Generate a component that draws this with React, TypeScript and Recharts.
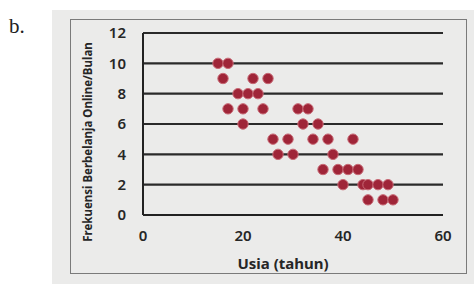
import React from "react";
import { ScatterChart, Scatter, XAxis, YAxis, CartesianGrid } from "recharts";

const usia: number[] = [15, 17, 16, 22, 25, 19, 21, 23, 17, 20, 24, 31, 33, 20, 32, 35, 26, 29, 34, 37, 42, 27, 30, 38, 36, 39, 41, 43, 40, 44, 45, 47, 49, 45, 48, 50];
const frekuensi: number[] = [10, 10, 9, 9, 9, 8, 8, 8, 7, 7, 7, 7, 7, 6, 6, 6, 5, 5, 5, 5, 5, 4, 4, 4, 3, 3, 3, 3, 2, 2, 2, 2, 2, 1, 1, 1];
const xTicks: number[] = [0, 20, 40, 60];
const yTicks: number[] = [0, 2, 4, 6, 8, 10, 12];

const data = usia.map((u, i) => ({ usia: u, frek: frekuensi[i] }));

const font = "'Noto Sans', 'DejaVu Sans', sans-serif";

const Dot = (props: any) => {
  const { cx, cy } = props;
  if (cx == null || cy == null) return null;
  return <circle cx={cx} cy={cy} r={5.2} fill="#9f2538" stroke="#c86a76" strokeWidth={1} />;
};

export default function App() {
  return (
    <div style={{ position: "absolute", left: 0, top: 0, width: 474, height: 284, background: "#ffffff", overflow: "hidden" }}>
      <div style={{ position: "absolute", left: 52, top: 10, width: 422, height: 274, background: "#ebebea" }} />
      <div style={{ position: "absolute", left: 70, top: 19, width: 397, height: 255, border: "1.5px solid #7a7a7a", boxSizing: "border-box" }} />
      <div style={{ position: "absolute", left: 9, top: 14, fontFamily: "'Liberation Serif', serif", fontSize: 21, color: "#222" }}>b.</div>
      <div style={{ position: "absolute", left: 0, top: 0 }}>
        <ScatterChart width={474} height={284} margin={{ top: 33, right: 31, bottom: 39, left: 113 }}>
          <CartesianGrid horizontal={true} vertical={false} stroke="#2a2a2a" strokeWidth={2.2} strokeOpacity={1} />
          <XAxis
            type="number"
            dataKey="usia"
            domain={[0, 60]}
            ticks={xTicks}
            height={30}
            tickLine={false}
            axisLine={{ stroke: "#222", strokeWidth: 2 }}
            tickMargin={9}
            tick={{ fontFamily: font, fontSize: 15, fontWeight: 600, fill: "#262626" }}
            label={{
              content: () => (
                <text x={283} y={269} textAnchor="middle" fontFamily={font} fontSize={15} fontWeight={700} fill="#262626">
                  Usia (tahun)
                </text>
              ),
            }}
          />
          <YAxis
            type="number"
            dataKey="frek"
            domain={[0, 12]}
            ticks={yTicks}
            width={30}
            tickLine={false}
            axisLine={{ stroke: "#222", strokeWidth: 2 }}
            tickMargin={11}
            tick={{ fontFamily: font, fontSize: 15, fontWeight: 600, fill: "#262626" }}
            label={{
              content: () => (
                <text x={92} y={142} transform="rotate(-90 92 142)" textAnchor="middle" fontFamily={font} fontSize={11.5} fontWeight={700} fill="#262626">
                  Frekuensi Berbelanja Online/Bulan
                </text>
              ),
            }}
          />
          <Scatter data={data} shape={Dot} isAnimationActive={false} />
        </ScatterChart>
      </div>
    </div>
  );
}
